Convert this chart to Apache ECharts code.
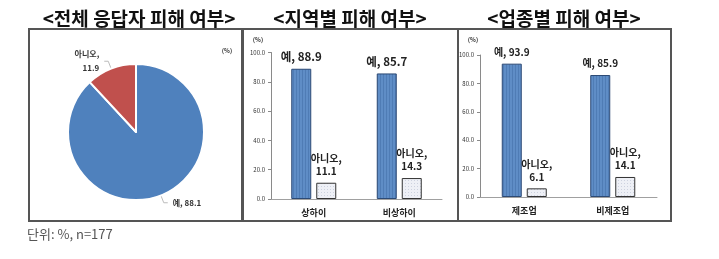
<!DOCTYPE html>
<html><head><meta charset="utf-8">
<script src="https://cdn.jsdelivr.net/npm/echarts@6/dist/echarts.min.js"></script>
<style>html,body{margin:0;padding:0;background:#fff}#c{width:719px;height:259px}</style>
</head><body><div id="c"></div>
<script>
const pieCategories = ['예', '아니오'];
const pieValues = [88.1, 11.9];
const regionCategories = ['상하이', '비상하이'];
const regionYes = [88.9, 85.7];
const regionNo = [11.1, 14.3];
const industryCategories = ['제조업', '비제조업'];
const industryYes = [93.9, 85.9];
const industryNo = [6.1, 14.1];
const seriesNames = ['예', '아니오'];
const titles = ['<전체 응답자 피해 여부>', '<지역별 피해 여부>', '<업종별 피해 여부>'];
const footnote = '단위: %, n=177';

const FONT = '"Noto Sans CJK KR", sans-serif';

function stripe() {
  const c = document.createElement('canvas'); c.width = 3; c.height = 4;
  const g = c.getContext('2d');
  g.fillStyle = '#5f8dc6'; g.fillRect(0, 0, 3, 4);
  g.fillStyle = '#4f7cb5'; g.fillRect(2, 0, 1, 4);
  return c;
}
function dots() {
  const c = document.createElement('canvas'); c.width = 3; c.height = 3;
  const g = c.getContext('2d');
  g.fillStyle = '#eef0f6'; g.fillRect(0, 0, 3, 3);
  g.fillStyle = '#cdd2df'; g.fillRect(0, 0, 1, 1);
  return c;
}
const blueFill = { image: stripe(), repeat: 'repeat' };
const greyFill = { image: dots(), repeat: 'repeat' };

const chart = echarts.init(document.getElementById('c'), null, { renderer: 'canvas' });

function yAxis(gi) {
  return {
    gridIndex: gi, type: 'value', min: 0, max: 100, interval: 20,
    axisLine: { show: true, lineStyle: { color: '#8a8a8a', width: 1 } },
    axisTick: { show: true, length: 3, lineStyle: { color: '#8a8a8a' } },
    splitLine: { show: false },
    axisLabel: { fontSize: 6, color: '#333', fontFamily: FONT, margin: 6,
      formatter: v => v.toFixed(1) }
  };
}
function xAxis(gi, cats) {
  return {
    gridIndex: gi, type: 'category', data: cats,
    axisLine: { show: true, lineStyle: { color: '#a0a0a0', width: 1 } },
    axisTick: { show: false },
    axisLabel: { fontSize: 9, fontWeight: 'bold', color: '#222', fontFamily: FONT, margin: 9 }
  };
}
function barSeries(gi, name, vals, fill, size, isYes) {
  return {
    type: 'bar', name: name, xAxisIndex: gi, yAxisIndex: gi, data: vals,
    barWidth: 20, barGap: '25%',
    itemStyle: { color: fill, borderColor: isYes ? '#2c4a75' : '#333', borderWidth: 1 },
    label: {
      show: true, position: 'top', distance: 5,
      fontFamily: FONT, fontWeight: 'bold', color: '#222',
      fontSize: size, lineHeight: size + 3,
      formatter: p => isYes ? (p.seriesName + ', ' + p.value) : (p.seriesName + ',\n' + p.value)
    }
  };
}

const pieData = pieCategories.map((n, i) => ({
  name: n, value: pieValues[i],
  itemStyle: { color: i === 0 ? '#4f81bd' : '#c0504d' },
  label: { formatter: i === 0 ? '{b}, {c}' : '{b},\n{c}' }
}));

const option = {
  animation: false,
  grid: [
    { left: 271, right: 277, top: 52.5, bottom: 60 },
    { left: 480, right: 62, top: 55, bottom: 62 }
  ],
  xAxis: [xAxis(0, regionCategories), xAxis(1, industryCategories)],
  yAxis: [yAxis(0), yAxis(1)],
  series: [
    {
      type: 'pie', center: [136, 132], radius: 68, startAngle: 90, clockwise: true,
      data: pieData,
      itemStyle: { borderColor: '#fff', borderWidth: 2 },
      label: { show: true, position: 'outside', fontFamily: FONT, fontWeight: 'bold',
        fontSize: 8, lineHeight: 14, color: '#333' },
      labelLine: { show: true, length: 8, length2: 4, lineStyle: { color: '#bbb', width: 1 } }
    },
    barSeries(0, seriesNames[0], regionYes, blueFill, 11.5, true),
    barSeries(0, seriesNames[1], regionNo, greyFill, 10, false),
    barSeries(1, seriesNames[0], industryYes, blueFill, 10, true),
    barSeries(1, seriesNames[1], industryNo, greyFill, 10, false)
  ],
  graphic: [
    { type: 'rect', shape: { x: 29, y: 29, width: 213, height: 192 }, style: { fill: 'none', stroke: '#555', lineWidth: 2 } },
    { type: 'rect', shape: { x: 243, y: 29, width: 215, height: 192 }, style: { fill: 'none', stroke: '#555', lineWidth: 2 } },
    { type: 'rect', shape: { x: 458, y: 29, width: 213, height: 192 }, style: { fill: 'none', stroke: '#555', lineWidth: 2 } },
    { type: 'text', x: 139, y: 19, style: { text: titles[0], font: 'bold 19px ' + FONT, fill: '#111', textAlign: 'center', textVerticalAlign: 'middle' } },
    { type: 'text', x: 350, y: 19, style: { text: titles[1], font: 'bold 19px ' + FONT, fill: '#111', textAlign: 'center', textVerticalAlign: 'middle' } },
    { type: 'text', x: 564, y: 19, style: { text: titles[2], font: 'bold 19px ' + FONT, fill: '#111', textAlign: 'center', textVerticalAlign: 'middle' } },
    { type: 'text', x: 227, y: 51, style: { text: '(%)', font: 'bold 6px ' + FONT, fill: '#333', textAlign: 'center', textVerticalAlign: 'middle' } },
    { type: 'text', x: 258, y: 40, style: { text: '(%)', font: 'bold 6px ' + FONT, fill: '#333', textAlign: 'center', textVerticalAlign: 'middle' } },
    { type: 'text', x: 473, y: 40, style: { text: '(%)', font: 'bold 6px ' + FONT, fill: '#333', textAlign: 'center', textVerticalAlign: 'middle' } },
    { type: 'text', x: 27, y: 234, style: { text: footnote, font: '13px ' + FONT, fill: '#555', textAlign: 'left', textVerticalAlign: 'middle' } }
  ]
};
chart.setOption(option);
</script></body></html>
